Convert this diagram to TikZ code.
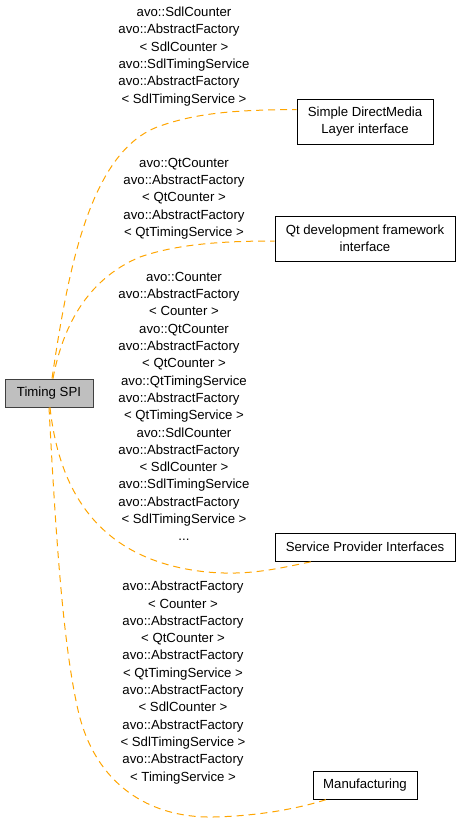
\documentclass[tikz,border=0pt]{standalone}
\usepackage{fontspec}
\setmainfont{Liberation Sans}
\usepackage{xcolor}
\usepackage{tikz}
\usetikzlibrary{arrows}

\definecolor{linkorange}{HTML}{FFA500}
\definecolor{boxgray}{HTML}{BFBFBF}
\definecolor{boxedge}{HTML}{404040}
\newcommand{\afline}{\mbox{avo::AbstractFactory\hspace{10pt}}}

\begin{document}
\begin{tikzpicture}[x=1pt, y=-1pt, semithick,
  box/.style={draw=black, line width=1pt, inner sep=0pt, align=center, font=\fontsize{13.2}{17.3}\selectfont},
  link/.style={draw=linkorange, line width=1pt, dash pattern=on 7pt off 5pt},
  lbl/.style={align=center, inner sep=0pt, font=\fontsize{13.2}{17.3}\selectfont}]
\useasboundingbox (0,0) rectangle (461,823);

\node[box, draw=boxedge, fill=boxgray, minimum width=88pt, minimum height=28pt] (tspi) at (49,393) {Timing SPI};
\node[box, minimum width=136pt, minimum height=45pt] (sdl) at (365,121.5) {Simple DirectMedia\\Layer interface};
\node[box, minimum width=180pt, minimum height=45pt] (qt) at (365,238.5) {Qt development framework\\interface};
\node[box, minimum width=180pt, minimum height=28pt] (spi) at (365,547) {Service Provider Interfaces};
\node[box, minimum width=104pt, minimum height=28pt] (man) at (365,785) {Manufacturing};

% edge labels
\node[lbl] (lsdl) at (184,56.5) {avo::SdlCounter\\\afline\\{< SdlCounter >}\\avo::SdlTimingService\\\afline\\{< SdlTimingService >}};
\node[lbl] (lqt) at (184,198.5) {avo::QtCounter\\avo::AbstractFactory\\{< QtCounter >}\\avo::AbstractFactory\\{< QtTimingService >}};
\node[lbl] (lspi) at (184,406.5) {avo::Counter\\\afline\\{< Counter >}\\avo::QtCounter\\\afline\\{< QtCounter >}\\avo::QtTimingService\\\afline\\{< QtTimingService >}\\avo::SdlCounter\\\afline\\{< SdlCounter >}\\avo::SdlTimingService\\\afline\\{< SdlTimingService >}\\...};
\node[lbl] (lman) at (183,682.5) {avo::AbstractFactory\\{< Counter >}\\avo::AbstractFactory\\{< QtCounter >}\\avo::AbstractFactory\\{< QtTimingService >}\\avo::AbstractFactory\\{< SdlCounter >}\\avo::AbstractFactory\\{< SdlTimingService >}\\avo::AbstractFactory\\{< TimingService >}};

% connectors
\draw[link] ([xshift=3pt]tspi.north) .. controls (68,270) and (90,150) .. (160,126)
  .. controls (200,112) and (240,110) .. ([yshift=-11pt]sdl.north west);
\draw[link] ([xshift=4pt]tspi.north) .. controls (62,330) and (85,280) .. (140,257)
  .. controls (180,243) and (230,241) .. ([yshift=-2.5pt]qt.west);
\draw[link] ([xshift=1pt]tspi.south) .. controls (58,480) and (90,560) .. (207,572)
  .. controls (250,576) and (280,568) .. ([xshift=38pt]spi.south west);
\draw[link] (tspi.south) .. controls (55,520) and (62,640) .. (78,710)
  .. controls (95,785) and (150,818) .. (213,817)
  .. controls (260,816) and (300,808) .. ([xshift=14pt]man.south west);
\end{tikzpicture}
\end{document}
